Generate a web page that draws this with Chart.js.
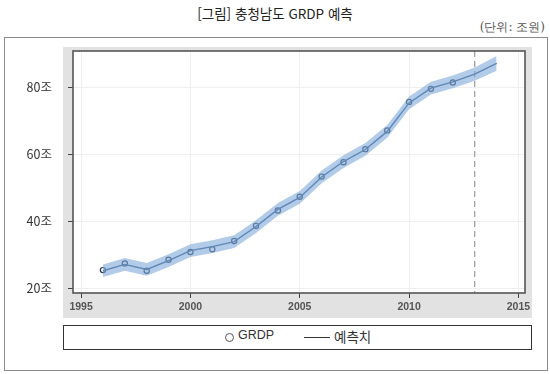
<!DOCTYPE html>
<html lang="ko">
<head>
<meta charset="UTF-8">
<title>충청남도 GRDP 예측</title>
<style>
  body { margin: 0; background: #fff; font-family: "Noto Sans CJK KR", sans-serif; }
  .page { position: relative; width: 550px; height: 374px; overflow: hidden; }
  .title { position: absolute; left: 0; width: 550px; top: 3px; text-align: center; font-size: 13.5px; color: #222; }
  .unit { position: absolute; right: 5px; top: 19px; font-size: 12px; color: #555; font-family: "DejaVu Serif", serif; }
  .outerBox { position: absolute; left: 4px; top: 37px; width: 542px; height: 332px; border: 1px solid #8a8a8a; }
  .grayPanel { position: absolute; left: 63px; top: 47px; width: 469px; height: 271px; background: #e2e2e2; }
  .legendBox { position: absolute; left: 63px; top: 325px; width: 467px; height: 23px; border: 1.5px solid #333; background: #fff; font-size: 12.5px; color: #333; }
  .legendBox .mark { position: absolute; left: 161px; top: 7px; width: 7px; height: 7px; border: 1.2px solid #555; border-radius: 50%; }
  .legendBox .gtxt { position: absolute; left: 174px; top: 2px; font-family: "Liberation Sans", sans-serif; }
  .legendBox .line { position: absolute; left: 240px; top: 11px; width: 26px; border-top: 1.5px solid #333; }
  .legendBox .ptxt { position: absolute; left: 270px; top: 0px; font-size: 13.5px; }
  #myChart { position: absolute; left: 0; top: 0; }
</style>
</head>
<body>
<div class="page">
  <div class="title">[그림] 충청남도 GRDP 예측</div>
  <div class="unit">(단위: 조원)</div>
  <div class="outerBox"></div>
  <div class="grayPanel"></div>
  <canvas id="myChart" width="550" height="374"></canvas>
  <div class="legendBox">
    <span class="mark"></span>
    <span class="gtxt">GRDP</span>
    <span class="line"></span>
    <span class="ptxt">예측치</span>
  </div>
</div>

<script src="https://cdn.jsdelivr.net/npm/chart.js"></script>
<script>
// 연도 / 값 (조원)
var anos = [1996, 1997, 1998, 1999, 2000, 2001, 2002, 2003, 2004, 2005, 2006, 2007, 2008, 2009, 2010, 2011, 2012]
var grdp = [25.5, 27.5, 25.3, 28.6, 30.9, 31.7, 34.2, 38.7, 43.3, 47.4, 53.4, 57.7, 61.6, 67.2, 75.7, 79.6, 81.5]

var anosPrev = [1996, 1997, 1998, 1999, 2000, 2001, 2002, 2003, 2004, 2005, 2006, 2007, 2008, 2009, 2010, 2011, 2012, 2013, 2014]
var previsto = [25.3, 27.2, 25.7, 28.3, 31.3, 32.5, 34.0, 38.5, 43.6, 47.2, 53.3, 57.9, 61.5, 66.9, 75.4, 79.8, 81.7, 84.0, 87.2]
var limSup = [27.2, 29.1, 27.6, 30.2, 33.2, 34.4, 35.9, 40.4, 45.5, 49.1, 55.2, 59.8, 63.4, 68.8, 77.3, 81.7, 83.6, 86.0, 89.4]
var limInf = [23.4, 25.3, 23.8, 26.4, 29.4, 30.6, 32.1, 36.6, 41.7, 45.3, 51.4, 56.0, 59.6, 65.0, 73.5, 77.9, 79.8, 82.0, 85.0]

var ticksX = [1995, 2000, 2005, 2010, 2015]
var ticksY = [20, 40, 60, 80]
var anoCorte = 2013

function pares(xs, ys) {
  var r = []
  for (var i = 0; i < xs.length; i++) r.push({ x: xs[i], y: ys[i] })
  return r
}

// moldura do gráfico + linha tracejada
const moldura = {
  id: 'moldura',
  beforeDraw(chart) {
    var c = chart.ctx, a = chart.chartArea
    c.save()
    c.fillStyle = '#fff'
    c.fillRect(a.left, a.top, a.right - a.left, a.bottom - a.top)
    c.restore()
  },
  beforeDatasetsDraw(chart) {
    var c = chart.ctx, a = chart.chartArea
    var xc = chart.scales.x.getPixelForValue(anoCorte)
    c.save()
    c.strokeStyle = '#9a9a9a'
    c.lineWidth = 1.2
    c.setLineDash([6, 4])
    c.beginPath()
    c.moveTo(xc, a.top)
    c.lineTo(xc, a.bottom)
    c.stroke()
    c.restore()
  },
  afterDraw(chart) {
    var c = chart.ctx, a = chart.chartArea
    c.save()
    c.strokeStyle = '#555'
    c.lineWidth = 1.6
    c.strokeRect(a.left, a.top, a.right - a.left, a.bottom - a.top)
    c.restore()
  }
}

const ctx = document.getElementById('myChart')

const Grafico = new Chart(ctx, {
  type: 'line',
  data: {
    datasets: [
      { label: 'sup', data: pares(anosPrev, limSup), borderWidth: 0, pointRadius: 0, fill: false, borderColor: 'rgba(0,0,0,0)' },
      { label: 'inf', data: pares(anosPrev, limInf), borderWidth: 0, pointRadius: 0, fill: '-1', backgroundColor: 'rgba(125,168,218,0.6)', borderColor: 'rgba(0,0,0,0)' },
      { label: '예측치', data: pares(anosPrev, previsto), borderColor: '#34557f', borderWidth: 1.4, pointRadius: 0, fill: false },
      { label: 'GRDP', data: pares(anos, grdp), showLine: false, pointRadius: 2.6, pointBorderWidth: 1.2, pointBorderColor: '#2a3340', pointBackgroundColor: 'rgba(0,0,0,0)' }
    ]
  },
  options: {
    responsive: false,
    animation: false,
    layout: { padding: { left: 0, top: 51, right: 25, bottom: 0 } },
    plugins: { legend: { display: false }, tooltip: { enabled: false } },
    scales: {
      x: {
        type: 'linear',
        min: 1994.63,
        max: 2015.3,
        afterFit: function (s) { s.height = 81 },
        afterBuildTicks: function (s) { s.ticks = ticksX.map(function (v) { return { value: v } }) },
        border: { display: false },
        grid: { color: '#efefef', tickColor: '#444', tickLength: 5, lineWidth: 1 },
        ticks: { color: '#555', padding: 3, font: { family: 'Liberation Sans', size: 10.5, weight: 'bold' }, callback: function (v) { return String(v) } }
      },
      y: {
        min: 18.66,
        max: 90.9,
        afterFit: function (s) { s.width = 73 },
        afterBuildTicks: function (s) { s.ticks = ticksY.map(function (v) { return { value: v } }) },
        border: { display: false },
        grid: { color: '#efefef', tickColor: '#444', tickLength: 5, lineWidth: 1 },
        ticks: { color: '#333', padding: 16, font: { family: 'Noto Sans CJK KR', size: 12.5 }, callback: function (v) { return v + '조' } }
      }
    }
  },
  plugins: [moldura]
})
</script>
</body>
</html>
